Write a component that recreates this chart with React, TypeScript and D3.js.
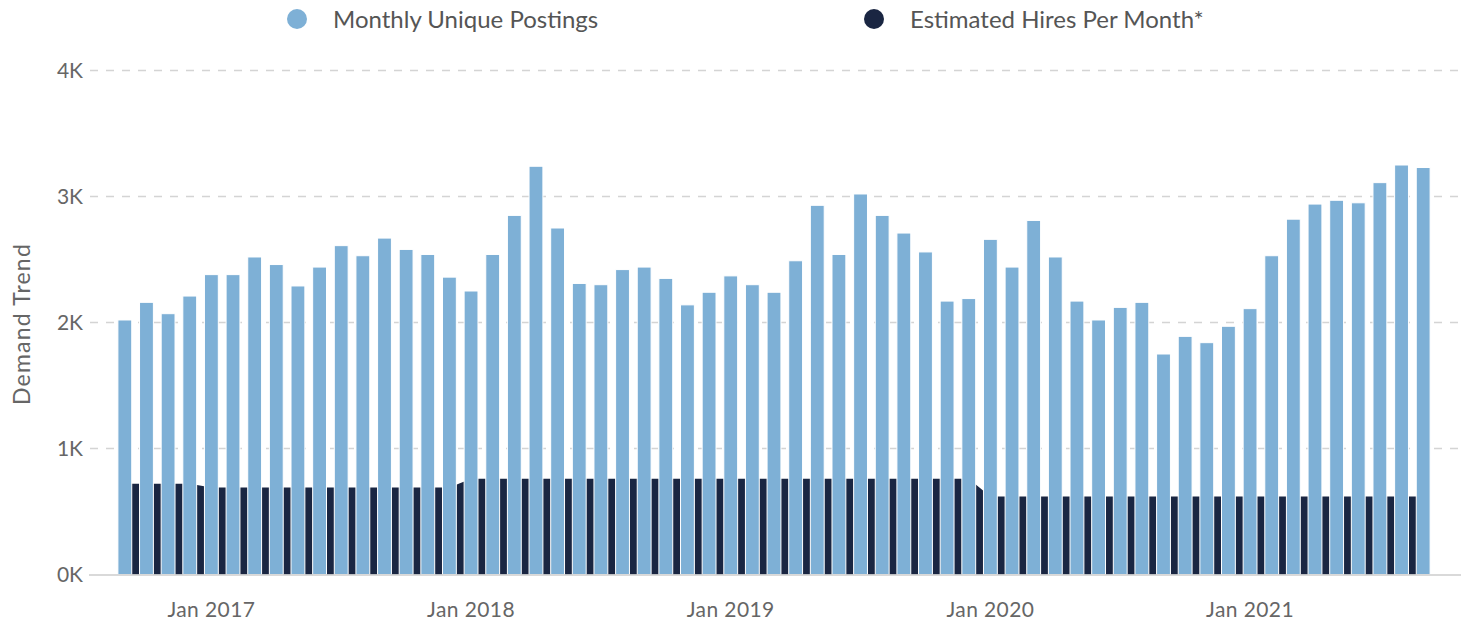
import { useEffect, useRef } from 'react';
import * as d3 from 'd3';

const WIDTH = 1471;
const HEIGHT = 624;

// Sep 2016 .. Sep 2021
const months: Date[] = d3.timeMonth.range(new Date(2016, 8, 1), new Date(2021, 9, 1));

const postings = [
  2020, 2160, 2070, 2210, 2380, 2380, 2520, 2460, 2290, 2440, 2610, 2530, 2670, 2580, 2540, 2360,
  2250, 2540, 2850, 3240, 2750, 2310, 2300, 2420, 2440, 2350, 2140, 2240, 2370, 2300, 2240, 2490,
  2930, 2540, 3020, 2850, 2710, 2560, 2170, 2190, 2660, 2440, 2810, 2520, 2170, 2020, 2120, 2160,
  1750, 1890, 1840, 1970, 2110, 2530, 2820, 2940, 2970, 2950, 3110, 3250, 3230,
];

const hires = [
  720, 720, 720, 720,
  690, 690, 690, 690, 690, 690, 690, 690, 690, 690, 690, 690,
  760, 760, 760, 760, 760, 760, 760, 760, 760, 760, 760, 760,
  760, 760, 760, 760, 760, 760, 760, 760, 760, 760, 760, 760,
  620, 620, 620, 620, 620, 620, 620, 620, 620, 620, 620, 620,
  620, 620, 620, 620, 620, 620, 620, 620, 620,
];

const yTicks = [0, 1000, 2000, 3000, 4000];
const xTickLabels = ['Jan 2017', 'Jan 2018', 'Jan 2019', 'Jan 2020', 'Jan 2021'];

const SERIES = [
  { name: 'Monthly Unique Postings', color: '#7eb0d6' },
  { name: 'Estimated Hires Per Month*', color: '#1a2642' },
];

const FONT = 'Lato, "Open Sans", sans-serif';

export default function App() {
  const svgRef = useRef<SVGSVGElement>(null);

  useEffect(() => {
    document.body.style.margin = '0';
    const svg = d3.select(svgRef.current!);
    svg.selectAll('*').remove();

    const fmt = d3.timeFormat('%b %Y');
    const keys = months.map((m) => fmt(m));

    const x = d3.scaleBand<string>().domain(keys).range([114, 1434]).paddingInner(0.36).paddingOuter(0.18);
    const y = d3.scaleLinear().domain([0, 4000]).range([574.5, 70.5]);
    const cx = (k: string) => (x(k) ?? 0) + x.bandwidth() / 2;

    // gridlines
    svg.append('g')
      .selectAll('line')
      .data(yTicks.filter((t) => t > 0))
      .join('line')
      .attr('x1', 90)
      .attr('x2', 1460)
      .attr('y1', (d) => y(d))
      .attr('y2', (d) => y(d))
      .attr('stroke', '#d4d4d4')
      .attr('stroke-width', 1.5)
      .attr('stroke-dasharray', '8,8');

    // y tick labels
    svg.append('g')
      .selectAll('text')
      .data(yTicks)
      .join('text')
      .attr('x', 83)
      .attr('y', (d) => y(d) + 7.5)
      .attr('text-anchor', 'end')
      .attr('font-family', FONT)
      .attr('font-size', 21)
      .attr('fill', '#666')
      .text((d) => `${d / 1000}K`);

    // y axis title
    svg.append('text')
      .attr('transform', `translate(30,324) rotate(-90)`)
      .attr('text-anchor', 'middle')
      .attr('font-family', FONT)
      .attr('font-size', 23)
      .attr('letter-spacing', 1.2)
      .attr('fill', '#666')
      .text('Demand Trend');

    // hires area (behind the bars)
    const area = d3.area<number>()
      .x((_, i) => cx(keys[i]))
      .y0(y(0))
      .y1((d) => y(d));
    svg.append('path')
      .datum(hires)
      .attr('d', area)
      .attr('fill', SERIES[1].color);

    // posting bars
    svg.append('g')
      .selectAll('rect')
      .data(postings)
      .join('rect')
      .attr('x', (_, i) => x(keys[i]) ?? 0)
      .attr('y', (d) => y(d))
      .attr('width', x.bandwidth())
      .attr('height', (d) => y(0) - y(d))
      .attr('fill', SERIES[0].color)
      .attr('stroke', '#ffffff')
      .attr('stroke-width', 1);

    // x axis line
    svg.append('line')
      .attr('x1', 89)
      .attr('x2', 1461)
      .attr('y1', y(0) + 0.5)
      .attr('y2', y(0) + 0.5)
      .attr('stroke', '#cccccc')
      .attr('stroke-width', 1.5);

    // x tick labels
    svg.append('g')
      .selectAll('text')
      .data(xTickLabels)
      .join('text')
      .attr('x', (d) => cx(d))
      .attr('y', 617)
      .attr('text-anchor', 'middle')
      .attr('font-family', FONT)
      .attr('font-size', 21)
      .attr('letter-spacing', 0.4)
      .attr('fill', '#666')
      .text((d) => d);

    // legend
    const legendX = [297, 874];
    const legend = svg.append('g')
      .selectAll('g')
      .data(SERIES)
      .join('g')
      .attr('transform', (_, i) => `translate(${legendX[i]},19)`);
    legend.append('circle').attr('r', 10).attr('fill', (d) => d.color);
    legend.append('text')
      .attr('x', 36)
      .attr('y', 8.5)
      .attr('font-family', FONT)
      .attr('font-size', 24)
      .attr('fill', '#555')
      .text((d) => d.name);
  }, []);

  return (
    <svg
      ref={svgRef}
      width={WIDTH}
      height={HEIGHT}
      style={{ display: 'block', position: 'absolute', left: 0, top: 0, background: '#fff' }}
    />
  );
}
